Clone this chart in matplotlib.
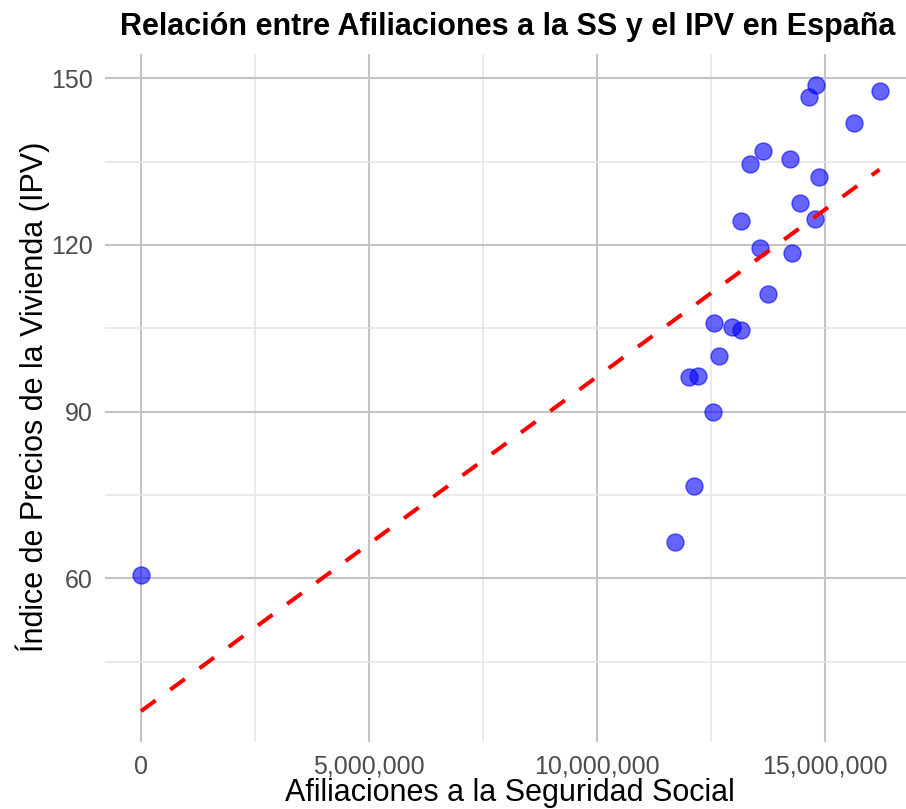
import numpy as np
import matplotlib
matplotlib.use("Agg")
import matplotlib.pyplot as plt
from matplotlib.ticker import FuncFormatter, MultipleLocator

# Data
afiliaciones = [0.0, 11.70e6, 12.13e6, 12.02e6, 12.21e6, 12.54e6, 12.68e6, 12.56e6,
                12.95e6, 13.15e6, 13.74e6, 13.57e6, 14.28e6, 13.15e6, 14.77e6, 14.44e6,
                14.86e6, 13.35e6, 14.23e6, 13.63e6, 15.64e6, 14.64e6, 14.79e6, 16.19e6]
ipv = [60.6, 66.5, 76.7, 96.2, 96.5, 89.9, 100.0, 105.9,
       105.2, 104.7, 111.1, 119.5, 118.6, 124.3, 124.7, 127.5,
       132.2, 134.5, 135.5, 137.0, 142.0, 146.6, 148.8, 147.7]
x_ticks = [0, 5_000_000, 10_000_000, 15_000_000]
y_ticks = [60, 90, 120, 150]

title = "Relación entre Afiliaciones a la SS y el IPV en España"
xlabel = "Afiliaciones a la Seguridad Social"
ylabel = "Índice de Precios de la Vivienda (IPV)"

plt.rcParams['font.family'] = ['Liberation Sans', 'DejaVu Sans']

W, H = 906, 809
fig = plt.figure(figsize=(W / 100, H / 100), dpi=100)
left, right, top, bottom = 105, 906, 54, 742
ax = fig.add_axes([left / W, 1 - bottom / H, (right - left) / W, (bottom - top) / H])

x = np.array(afiliaciones)
y = np.array(ipv)

ax.scatter(x, y, s=150, color='blue', alpha=0.6, edgecolors='blue', linewidths=1.0, zorder=3)

slope, intercept = np.polyfit(x, y, 1)
xs = np.array([x.min(), x.max()])
ax.plot(xs, intercept + slope * xs, color='red', lw=2.9, dashes=(4.5, 4.5), zorder=4)

ax.set_xlim(-0.789e6, 16.77e6)
ax.set_ylim(30.55, 154.37)
ax.set_xticks(x_ticks)
ax.set_yticks(y_ticks)
ax.xaxis.set_minor_locator(MultipleLocator(2_500_000))
ax.yaxis.set_minor_locator(MultipleLocator(15))
ax.xaxis.set_major_formatter(FuncFormatter(lambda v, p: f"{int(round(v)):,}"))

ax.grid(which='major', color='#c4c4c4', lw=1.5)
ax.grid(which='minor', color='#e6e6e6', lw=1.1)
ax.set_axisbelow(True)
for s in ax.spines.values():
    s.set_visible(False)
ax.tick_params(which='both', length=0)
ax.tick_params(axis='both', labelsize=18, labelcolor='#4d4d4d')
ax.tick_params(axis='x', pad=9)
ax.tick_params(axis='y', pad=9)

fig.text(508 / W, 1 - 35 / H, title, ha='center', va='baseline', fontsize=22, fontweight='bold')
fig.text(510 / W, 1 - 801 / H, xlabel, ha='center', va='baseline', fontsize=22)
fig.text(33 / W, 1 - 397 / H, ylabel, ha='center', va='center', fontsize=22, rotation=90)

fig.savefig("out.png", dpi=100)
